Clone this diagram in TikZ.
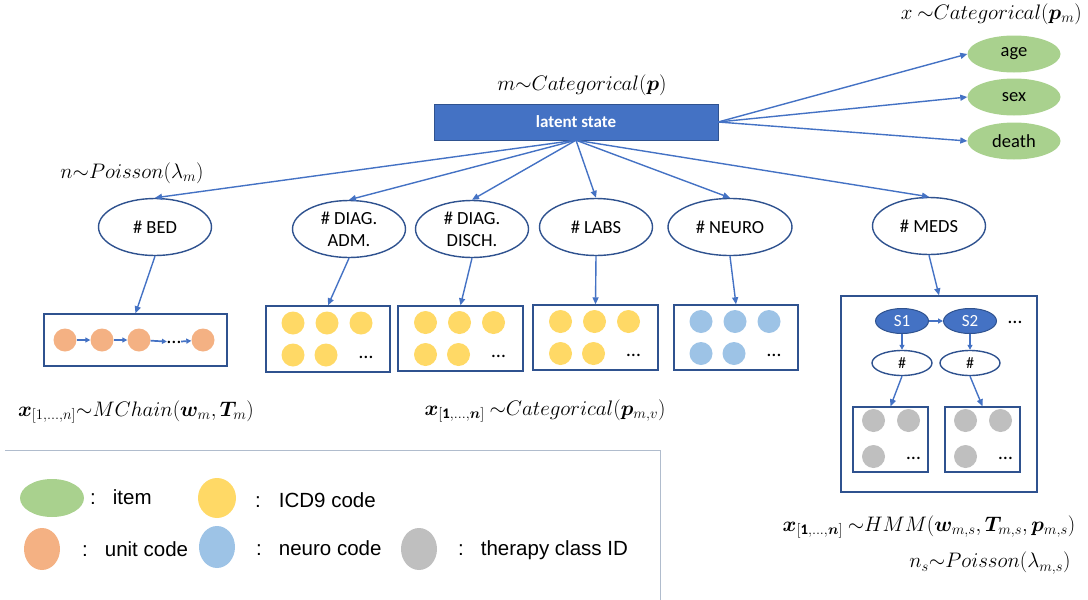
\RequirePackage{fix-cm}
\documentclass[tikz,border=0pt]{standalone}
\usepackage{amsmath,amssymb}
\usepackage{bm}
\usepackage{fontspec}
\setmainfont{Carlito}
\newfontfamily\legendfont{Liberation Sans}
\usetikzlibrary{arrows.meta,positioning,calc,shapes.geometric}

\definecolor{linkblue}{HTML}{4472C4}
\definecolor{edgeblue}{HTML}{2F528F}
\definecolor{itemgreen}{HTML}{A9D18E}
\definecolor{unitorange}{HTML}{F4B183}
\definecolor{icdyellow}{HTML}{FFD966}
\definecolor{neuroblue}{HTML}{9DC3E6}
\definecolor{therapygray}{HTML}{BFBFBF}
\definecolor{legendline}{HTML}{B0BCCD}

% five codes and dots inside a box node
\newcommand{\codegrid}[2]{%
  \foreach \dx/\dy [count=\k] in {-35/-16,-1/-16,33/-16,-35/16,-2/16}
    \node[codedot,fill=#2] (#1-\k) at ($(#1)+(\dx,\dy)$) {};
  \node[dotsnode] (#1-dots) at ($(#1)+(38,18)$) {\dots};}

\begin{document}
\begin{tikzpicture}[x=1pt,y=-1pt,
    cnt/.style={ellipse,draw=edgeblue,line width=1.4pt,fill=white,minimum width=113pt,minimum height=57pt,inner sep=0pt,align=center,font=\fontsize{18.5}{22}\selectfont},
    itemnode/.style={ellipse,fill=itemgreen,minimum width=93pt,minimum height=37pt,inner sep=0pt,font=\fontsize{18.5}{20}\selectfont},
    grp/.style={draw=edgeblue,line width=1.4pt,inner sep=0pt},
    codedot/.style={circle,inner sep=0pt,minimum size=23pt},
    dotsnode/.style={inner sep=0pt,font=\fontsize{20}{22}\selectfont},
    hid/.style={ellipse,fill=linkblue,draw=edgeblue,line width=1pt,minimum width=53pt,minimum height=25pt,inner sep=0pt,text=white,font=\fontsize{17}{18}\selectfont},
    cntsmall/.style={ellipse,draw=edgeblue,line width=1.4pt,minimum width=60pt,minimum height=25pt,inner sep=0pt,font=\fontsize{16}{17}\selectfont},
    link/.style={draw=linkblue,line width=1.4pt,-{Triangle[length=7pt,width=6pt]}},
    shortlink/.style={draw=linkblue,line width=1.7pt,-{Triangle[length=5pt,width=5pt]}},
    eq/.style={inner sep=0pt,font=\fontsize{21}{24}\selectfont},
    keytext/.style={anchor=west,inner sep=0pt,font=\legendfont\fontsize{20.5}{22}\selectfont},
    keydot/.style={ellipse,inner sep=0pt,minimum width=38pt,minimum height=40pt}]
  \useasboundingbox (0,0) rectangle (1088,600);

  % latent state and items
  \node[rectangle,fill=linkblue,draw=edgeblue,minimum width=284pt,minimum height=36pt,text=white,font=\bfseries\fontsize{17}{18}\selectfont] (latent) at (576,122) {latent state};
  \node[eq] (mform) at (582,85) {$m{\sim}Categorical(\bm{p})$};
  \node[itemnode] (age) at (1014,54) {age};
  \node[itemnode] (sex) at (1014,97) {sex};
  \node[itemnode] (death) at (1014,141) {death};
  \node[eq,anchor=east] (xform) at (1082,14) {$x\ {\sim}Categorical(\bm{p}_m)$};
  \foreach \t in {age,sex,death}
    \draw[link] (latent.east) -- (\t.west);

  % counts
  \node[cnt] (bed) at (155,227) {\# BED};
  \node[cnt] (adm) at (349,229) {\# DIAG.\\ADM.};
  \node[cnt] (disch) at (472,229) {\# DIAG.\\DISCH.};
  \node[cnt] (labs) at (596,227) {\# LABS};
  \node[cnt,minimum width=124pt] (neuro) at (730,227) {\# NEURO};
  \node[cnt] (meds) at (929,226) {\# MEDS};
  \node[eq] (nform) at (132,173) {$n{\sim}Poisson(\lambda_m)$};
  \foreach \t in {bed,adm,disch,labs,neuro,meds}
    \draw[link] (latent.south) -- (\t.north);

  % boxes
  \node[grp,minimum width=183pt,minimum height=52pt] (bedbox) at (135.5,340) {};
  \node[grp,minimum width=124pt,minimum height=66pt] (admbox) at (328,339) {};
  \node[grp,minimum width=125pt,minimum height=65pt] (dischbox) at (460.5,338.5) {};
  \node[grp,minimum width=125pt,minimum height=65pt] (labsbox) at (595.5,337.5) {};
  \node[grp,minimum width=124pt,minimum height=65pt] (neurobox) at (736,337.5) {};
  \node[grp,minimum width=196pt,minimum height=196pt] (medsbox) at (939,394) {};
  \foreach \t in {bed,adm,disch,labs,neuro,meds}
    \draw[link] (\t.south) -- (\t box.north);

  % unit chain
  \foreach \x [count=\k] in {65,102,139,203}
    \node[codedot,fill=unitorange] (u\k) at (\x,340) {};
  \node[dotsnode] (udots) at (174,342) {\dots};
  \draw[shortlink] (u1) -- (u2);
  \draw[shortlink] (u2) -- (u3);
  \draw[shortlink] (u3) -- (udots);
  \draw[shortlink] (udots) -- (u4);

  \codegrid{admbox}{icdyellow}
  \codegrid{dischbox}{icdyellow}
  \codegrid{labsbox}{icdyellow}
  \codegrid{neurobox}{neuroblue}

  % hmm inside meds
  \node[hid] (s1) at (902,321) {S1};
  \node[hid] (s2) at (970,321) {S2};
  \node[dotsnode] (sdots) at (1015,322) {\dots};
  \node[cntsmall] (n1) at (902,363) {\#};
  \node[cntsmall] (n2) at (970,363) {\#};
  \node[grp,minimum width=75pt,minimum height=65pt] (t1box) at (890.5,439.5) {};
  \node[grp,minimum width=75pt,minimum height=65pt] (t2box) at (982.5,439.5) {};
  \draw[shortlink] (s1) -- (s2);
  \draw[shortlink] (s1) -- (n1);
  \draw[shortlink] (s2) -- (n2);
  \draw[link] (n1.south) -- (t1box.north);
  \draw[link] (n2.south) -- (t2box.north);
  \foreach \b in {t1box,t2box} {
    \foreach \dx/\dy [count=\k] in {-17/-19,18/-19,-17/17}
      \node[codedot,fill=therapygray] (\b-\k) at ($(\b)+(\dx,\dy)$) {};
    \node[dotsnode] (\b-dots) at ($(\b)+(23,19)$) {\dots};
  }

  % formulas
  \node[eq] (chainform) at (136,412) {$\bm{x}_{[1,\dots,n]}{\sim}MChain(\bm{w}_m,\bm{T}_m)$};
  \node[eq] (catform) at (545,411) {$\bm{x}_{[\mathbf{1},\dots,\bm{n}]}\ {\sim}Categorical(\bm{p}_{m,v})$};
  \node[eq] (hmmform) at (929,527) {$\bm{x}_{[\mathbf{1},\dots,\bm{n}]}\ {\sim}HMM(\bm{w}_{m,s},\bm{T}_{m,s},\bm{p}_{m,s})$};
  \node[eq] (nsform) at (990,563) {$n_s{\sim}Poisson(\lambda_{m,s})$};

  % legend
  \draw[legendline,line width=0.8pt] (5,450) -- (660,450) -- (660,600);
  \node[keydot,fill=itemgreen,minimum width=64pt,minimum height=38pt] (kitem) at (52,498) {};
  \node[keytext] (litem) at (90,497) {:\hspace{17pt}item};
  \node[keydot,fill=icdyellow] (kicd) at (217,498) {};
  \node[keytext] (licd) at (255,500) {:\hspace{18pt}ICD9 code};
  \node[keydot,fill=unitorange,minimum width=36pt,minimum height=42pt] (kunit) at (42,549) {};
  \node[keytext] (lunit) at (82,549) {:\hspace{17pt}unit code};
  \node[keydot,fill=neuroblue,minimum width=36pt,minimum height=42pt] (kneuro) at (217,547) {};
  \node[keytext] (lneuro) at (256,548) {:\hspace{17pt}neuro code};
  \node[keydot,fill=therapygray,minimum width=36pt,minimum height=42pt] (ktherapy) at (419,549) {};
  \node[keytext] (ltherapy) at (458,550) {:\hspace{17pt}therapy class ID};
\end{tikzpicture}
\end{document}
